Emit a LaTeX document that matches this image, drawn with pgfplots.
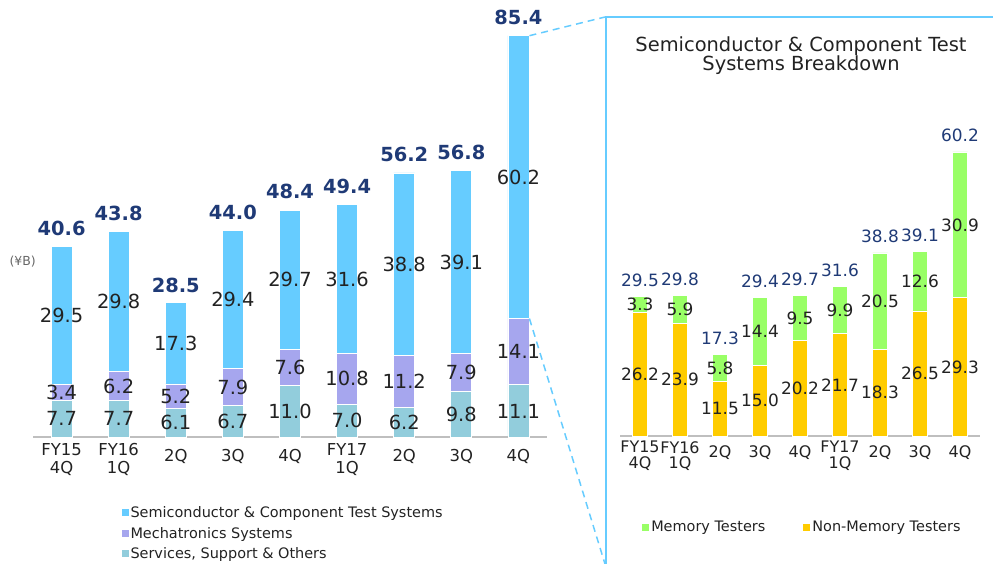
\documentclass[border=0pt]{standalone}
\usepackage{fontspec}
\setmainfont{DejaVu Sans}
\usepackage{pgfplots}
\pgfplotsset{compat=1.18}

\definecolor{clrSemi}{HTML}{66CCFF}
\definecolor{clrMecha}{HTML}{A6A6EE}
\definecolor{clrServ}{HTML}{92CDDC}
\definecolor{clrMem}{HTML}{99FF66}
\definecolor{clrNonMem}{HTML}{FFCC00}
\definecolor{clrNavy}{HTML}{1F3A76}
\definecolor{clrBox}{HTML}{66CCFF}
\definecolor{clrAxis}{HTML}{BFBFBF}
\definecolor{clrText}{HTML}{222222}

\pgfplotsset{
  mid label/.style={
    nodes near coords,
    every node near coord/.append style={anchor=center},
  },
  sq legend/.style={
    legend image code/.code={\path[##1,draw=none] (0bp,-3.5bp) rectangle (7bp,3.5bp);},
  },
  frame/.style={
    scale only axis,
    anchor=south west,
    clip=false,
    xmin=-0.5, xmax=8.5, ymin=0,
    /pgf/number format/.cd, fixed, fixed zerofill, precision=1, assume math mode=true,
  },
  panel/.style={
    frame,
    ybar stacked,
    xtick={0,...,8},
    ytick=\empty,
    major tick length=0pt,
    axis x line*=bottom,
    axis y line=none,
    x axis line style={draw=clrAxis, line width=1.5bp, -},
    xticklabel style={align=center, inner sep=0pt, text=clrText},
  },
  % same frame, no axis drawn: carries the totals above the stacks
  totals/.style={
    frame,
    hide axis,
    every node near coord/.append style={anchor=base, inner sep=0pt, text=clrNavy},
  },
}

\begin{document}
\begin{tikzpicture}
\useasboundingbox (0,0) rectangle (993bp,564bp);

% ---------- left: sales by segment ----------
\begin{axis}[
  panel,
  at={(33bp,127bp)},
  width=514bp, height=437bp,
  ymax=93,
  bar width=21bp,
  xticklabels={{FY15\\4Q},{FY16\\1Q},{\mbox{}\\2Q},{\mbox{}\\3Q},{\mbox{}\\4Q},{FY17\\1Q},{\mbox{}\\2Q},{\mbox{}\\3Q},{\mbox{}\\4Q}},
  xticklabel style={font=\fontsize{16.5}{18}\selectfont, yshift=-6bp},
  every node near coord/.append style={font=\fontsize{19.5}{20}\selectfont, text=clrText},
  sq legend,
  reverse legend,
  legend cell align=left,
  legend style={at={(0.166,-0.15)}, anchor=north west, draw=none, fill=none,
    font=\fontsize{14.5}{16}\selectfont, text=clrText, row sep=4bp},
]
\addplot[fill=clrServ, draw=white, line width=0.8bp, mid label] coordinates {
  (0,7.7) (1,7.7) (2,6.1) (3,6.7) (4,11.0) (5,7.0) (6,6.2) (7,9.8) (8,11.1)};
\addplot[fill=clrMecha, draw=white, line width=0.8bp, mid label] coordinates {
  (0,3.4) (1,6.2) (2,5.2) (3,7.9) (4,7.6) (5,10.8) (6,11.2) (7,7.9) (8,14.1)};
\addplot[fill=clrSemi, draw=white, line width=0.8bp, mid label] coordinates {
  (0,29.5) (1,29.8) (2,17.3) (3,29.4) (4,29.7) (5,31.6) (6,38.8) (7,39.1) (8,60.2)};
\legend{Services{,} Support \& Others, Mechatronics Systems, Semiconductor \& Component Test Systems}
\coordinate (topR) at ([xshift=11bp]axis cs:8,85.4);
\coordinate (midR) at ([xshift=11bp]axis cs:8,25.2);
\end{axis}

\begin{axis}[
  totals,
  at={(33bp,127bp)},
  width=514bp, height=437bp,
  ymax=93,
  every node near coord/.append style={yshift=11bp, font=\bfseries\fontsize{19.5}{20}\selectfont},
]
\addplot[draw=none, mark=none, nodes near coords] coordinates {
  (0,40.6) (1,43.8) (2,28.5) (3,44.0) (4,48.4) (5,49.4) (6,56.2) (7,56.8) (8,85.4)};
\end{axis}

\node[anchor=west, font=\fontsize{12.5}{14}\selectfont, text=black!60] at (6bp,302bp) {(¥B)};

% ---------- right: breakdown box ----------
\draw[clrBox, line width=2bp] (1000bp,547bp) -- (606bp,547bp) -- (606bp,-10bp);
\draw[clrBox, line width=1.5bp, dash pattern=on 7bp off 5bp] (topR) -- (605bp,547bp);
\draw[clrBox, line width=1.5bp, dash pattern=on 7bp off 5bp] (midR) -- (605bp,0bp);

\node[align=center, font=\fontsize{19.5}{19}\selectfont, text=clrText] at (801bp,508bp)
  {Semiconductor \& Component Test\\Systems Breakdown};

\begin{axis}[
  panel,
  at={(620bp,128bp)},
  width=360bp, height=436bp,
  ymax=92.4,
  bar width=15bp,
  xticklabels={{FY15\\4Q},{FY16\\1Q},{\mbox{}\\2Q},{\mbox{}\\3Q},{\mbox{}\\4Q},{FY17\\1Q},{\mbox{}\\2Q},{\mbox{}\\3Q},{\mbox{}\\4Q}},
  xticklabel style={font=\fontsize{16}{16}\selectfont, yshift=-5bp},
  every node near coord/.append style={font=\fontsize{17}{18}\selectfont, text=clrText},
  sq legend,
  reverse legend,
  legend columns=2,
  legend style={at={(0.053,-0.186)}, anchor=north west, draw=none, fill=none,
    font=\fontsize{14.5}{16}\selectfont, text=clrText,
    /tikz/every even column/.append style={column sep=36bp}},
]
\addplot[fill=clrNonMem, draw=white, line width=0.8bp, mid label] coordinates {
  (0,26.2) (1,23.9) (2,11.5) (3,15.0) (4,20.2) (5,21.7) (6,18.3) (7,26.5) (8,29.3)};
\addplot[fill=clrMem, draw=white, line width=0.8bp, mid label] coordinates {
  (0,3.3) (1,5.9) (2,5.8) (3,14.4) (4,9.5) (5,9.9) (6,20.5) (7,12.6) (8,30.9)};
\legend{Non-Memory Testers, Memory Testers}
\end{axis}

\begin{axis}[
  totals,
  at={(620bp,128bp)},
  width=360bp, height=436bp,
  ymax=92.4,
  every node near coord/.append style={yshift=10bp, font=\fontsize{17}{18}\selectfont},
]
\addplot[draw=none, mark=none, nodes near coords] coordinates {
  (0,29.5) (1,29.8) (2,17.3) (3,29.4) (4,29.7) (5,31.6) (6,38.8) (7,39.1) (8,60.2)};
\end{axis}
\end{tikzpicture}
\end{document}
